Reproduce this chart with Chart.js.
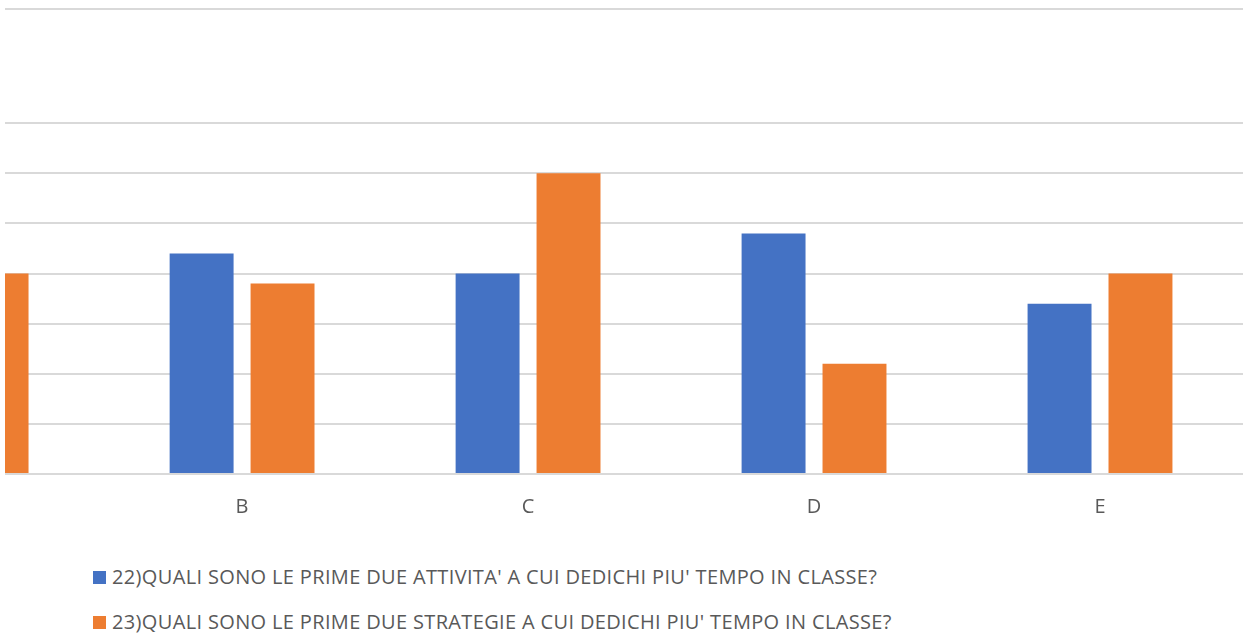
<!DOCTYPE html>
<html>
<head>
<meta charset="utf-8">
<script src="https://cdn.jsdelivr.net/npm/chart.js@4/dist/chart.umd.min.js"></script>
<style>
  html, body { margin: 0; padding: 0; background: #fff; }
  body { width: 1250px; height: 634px; overflow: hidden; position: relative; font-family: "Open Sans", sans-serif; }
  #wrap { position: absolute; left: 0; top: 0; width: 1250px; height: 531px; }
  .leg { position: absolute; left: 93px; font-size: 20px; letter-spacing: 0.35px; color: #595959; white-space: nowrap; line-height: 24px; }
  .leg span.box { display: inline-block; width: 13px; height: 13px; margin-right: 6px; vertical-align: 0px; }
</style>
</head>
<body>
<div id="wrap"><canvas id="chart"></canvas></div>
<div id="legend"></div>
<script>
// categories (A is only partly visible at the left edge)
const categories = ["A", "B", "C", "D", "E"];
const seriesNames = [
  "22)QUALI SONO LE PRIME DUE ATTIVITA' A CUI DEDICHI PIU' TEMPO IN CLASSE?",
  "23)QUALI SONO LE PRIME DUE STRATEGIE A CUI DEDICHI PIU' TEMPO IN CLASSE?"
];
const attivita = [18, 22, 20, 24, 17];
const strategie = [20, 19, 30, 11, 20];
const gridValues = [0, 5, 10, 15, 20, 25, 30, 35];
const yTop = 46.4;

const colors = ["#4472C4", "#ED7D31"];

function toPoints(vals) {
  return vals.map((v, i) => ({ x: i, y: v }));
}

const ctx = document.getElementById("chart").getContext("2d");
new Chart(ctx, {
  type: "bar",
  data: {
    datasets: [
      { label: seriesNames[0], data: toPoints(attivita), backgroundColor: colors[0] },
      { label: seriesNames[1], data: toPoints(strategie), backgroundColor: colors[1] }
    ]
  },
  options: {
    responsive: true,
    maintainAspectRatio: false,
    animation: false,
    categoryPercentage: 0.566,
    barPercentage: 0.79,
    layout: { padding: { left: 5, right: 7, top: 9, bottom: 0 } },
    plugins: { legend: { display: false }, tooltip: { enabled: false } },
    scales: {
      x: {
        type: "linear",
        offset: false,
        min: 0.171,
        max: 4.5,
        grid: { display: false, drawTicks: false },
        border: { display: false },
        afterBuildTicks: (scale) => {
          scale.ticks = [1, 2, 3, 4].map(v => ({ value: v }));
        },
        afterFit: (scale) => { scale.height = 57; },
        ticks: {
          autoSkip: false,
          maxRotation: 0,
          padding: 21,
          color: "#595959",
          font: { family: "Open Sans", size: 20 },
          callback: (v) => categories[v]
        }
      },
      y: {
        min: 0,
        max: yTop,
        grid: { color: "#D9D9D9", lineWidth: 2, drawTicks: false },
        border: { display: false },
        afterBuildTicks: (scale) => {
          scale.ticks = gridValues.concat([yTop]).map(v => ({ value: v }));
        },
        ticks: { display: false }
      }
    }
  }
});

// legend, one row per series
const legendEl = document.getElementById("legend");
const legendTops = [565, 610];
legendEl.innerHTML = seriesNames.map((name, i) =>
  `<div class="leg" style="top:${legendTops[i]}px"><span class="box" style="background:${colors[i]}"></span>${name}</div>`
).join("");
</script>
</body>
</html>
